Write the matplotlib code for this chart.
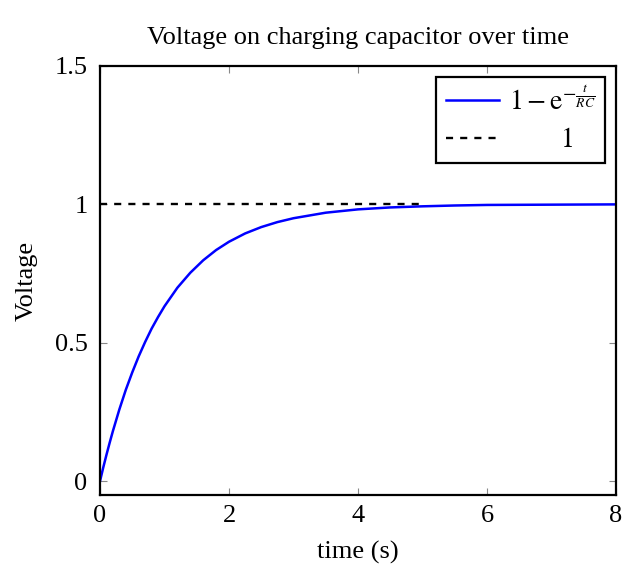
import matplotlib
matplotlib.use("Agg")
import matplotlib.pyplot as plt

# voltage
time_s = [0, 0.05, 0.1, 0.15, 0.2, 0.3, 0.4, 0.5, 0.6, 0.7, 0.8, 0.9, 1.0, 1.2,
          1.4, 1.6, 1.8, 2.0, 2.25, 2.5, 2.75, 3.0, 3.5, 4.0, 4.5, 5.0, 5.5,
          6.0, 7.0, 8.0]
voltage = [0, 0.049, 0.095, 0.139, 0.181, 0.259, 0.330, 0.393, 0.451, 0.503,
           0.551, 0.593, 0.632, 0.699, 0.753, 0.798, 0.835, 0.865, 0.895,
           0.918, 0.936, 0.950, 0.970, 0.982, 0.989, 0.993, 0.996, 0.998,
           0.999, 1.0]

ref_x = [0, 5]
ref_y = [1, 1]

xticks = [0, 2, 4, 6, 8]
yticks = [0, 0.5, 1, 1.5]
ytick_labels = ["0", "0.5", "1", "1.5"]

plt.rcParams['font.family'] = ['Liberation Serif', 'DejaVu Serif']
plt.rcParams['mathtext.fontset'] = 'stix'
plt.rcParams['font.size'] = 19

fig = plt.figure(figsize=(6.23, 5.68), dpi=100)
ax = fig.add_axes([100 / 623, 1 - 495 / 568, 516 / 623, 429 / 568])

ax.plot(time_s, voltage, color='#0000ff', lw=1.8, label=r'$1-\mathrm{e}^{-\frac{t}{RC}}$')
ax.plot(ref_x, ref_y, color='black', lw=1.7, dashes=(3, 3), label=r'$\qquad\;\;1$')

ax.set_xlim(0, 8)
ax.set_ylim(-0.05, 1.5)
ax.set_xticks(xticks)
ax.set_xticklabels([str(v) for v in xticks])
ax.set_yticks(yticks)
ax.set_yticklabels(ytick_labels)
ax.tick_params(direction='in', length=5, width=0.8, color='#888888',
               top=True, right=True, labelsize=19)
ax.tick_params(axis='x', pad=7)
ax.tick_params(axis='y', pad=9)
for sp in ax.spines.values():
    sp.set_linewidth(1.6)

ax.set_title('Voltage on charging capacitor over time', fontsize=19, pad=16)
ax.set_xlabel('time (s)', fontsize=19, labelpad=10)
ax.set_ylabel('Voltage', fontsize=19, labelpad=12)

leg = ax.legend(loc='upper right', fontsize=20, fancybox=False, framealpha=1,
                edgecolor='black', handlelength=1.9, borderaxespad=0.4,
                handletextpad=0.35, labelspacing=0.45, borderpad=0.35)
leg.get_frame().set_linewidth(1.6)

fig.savefig('out.png', dpi=100)
